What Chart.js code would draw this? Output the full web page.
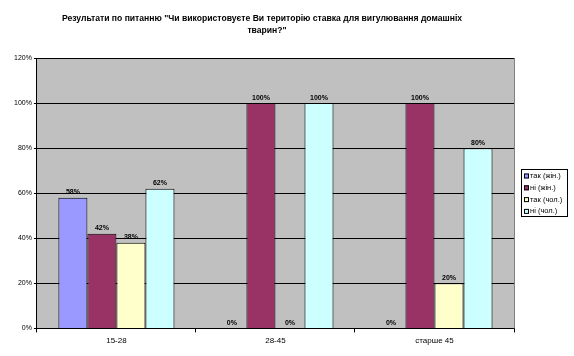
<!DOCTYPE html>
<html><head><meta charset="utf-8">
<script src="https://cdn.jsdelivr.net/npm/chart.js@4"></script>
<style>html,body{margin:0;padding:0;background:#fff;}#wrap{width:574px;height:356px;}</style>
</head><body><div id="wrap"><canvas id="c" width="574" height="356"></canvas></div>
<script>
const titleLines = ['Результати по питанню "Чи використовуєте Ви територію ставка для вигулювання домашніх', 'тварин?"'];
const categories = ['15-28', '28-45', 'старше 45'];
const seriesNames = ['так (жін.)', 'ні (жін.)', 'так (чол.)', 'ні (чол.)'];
const takZhin = [58, 0, 0];
const niZhin = [42, 100, 100];
const takChol = [38, 0, 20];
const niChol = [62, 100, 80];
const yTicks = [0, 20, 40, 60, 80, 100, 120];
const colors = ['#9999FF', '#993366', '#FFFFCC', '#CCFFFF'];

const seriesValues = [takZhin, niZhin, takChol, niChol];
const FONT = 'Arial, "Liberation Sans", sans-serif';

const bgPlugin = {
  id: 'bg',
  beforeDraw(chart) {
    const {ctx, chartArea: a} = chart;
    ctx.save();
    ctx.fillStyle = '#fff';
    ctx.fillRect(0, 0, chart.width, chart.height);
    ctx.fillStyle = '#C0C0C0';
    ctx.fillRect(a.left, a.top, a.right - a.left, a.bottom - a.top);
    ctx.restore();
  },
  afterDraw(chart) {
    const {ctx, chartArea: a} = chart;
    ctx.save();
    ctx.strokeStyle = '#808080';
    ctx.lineWidth = 1;
    ctx.beginPath();
    ctx.moveTo(a.right + 0.5, a.top);
    ctx.lineTo(a.right + 0.5, a.bottom);
    ctx.stroke();
    // title
    ctx.fillStyle = '#000';
    ctx.font = 'bold 8.6px ' + FONT;
    ctx.textAlign = 'center';
    ctx.textBaseline = 'middle';
    ctx.fillText(titleLines[0], 262, 19);
    ctx.fillText(titleLines[1], 267, 31);
    // data labels
    ctx.font = 'bold 7px ' + FONT;
    ctx.textBaseline = 'bottom';
    chart.data.datasets.forEach((ds, i) => {
      const meta = chart.getDatasetMeta(i);
      meta.data.forEach((bar, j) => {
        ctx.fillStyle = '#000';
        ctx.fillText(ds.data[j] + '%', bar.x, bar.y - 2);
      });
    });
    // legend
    const lx = 521, ly = 169, lw = 46, lh = 47;
    ctx.fillStyle = '#fff';
    ctx.fillRect(lx, ly, lw, lh);
    ctx.strokeStyle = '#000';
    ctx.strokeRect(lx + 0.5, ly + 0.5, lw, lh);
    ctx.font = '7.5px ' + FONT;
    ctx.textAlign = 'left';
    ctx.textBaseline = 'middle';
    seriesNames.forEach((n, i) => {
      const y = ly + 7 + i * 11.8;
      ctx.fillStyle = colors[i];
      ctx.fillRect(lx + 3, y - 2.5, 5, 5);
      ctx.strokeStyle = '#000';
      ctx.strokeRect(lx + 3.5, y - 2, 4, 4);
      ctx.fillStyle = '#000';
      ctx.fillText(n, lx + 9, y);
    });
    ctx.restore();
  }
};

new Chart(document.getElementById('c'), {
  type: 'bar',
  data: {
    labels: categories,
    datasets: seriesNames.map((n, i) => ({
      label: n,
      data: seriesValues[i],
      backgroundColor: colors[i],
      borderColor: '#000',
      borderWidth: 1,
      categoryPercentage: 0.73,
      barPercentage: 1.0
    }))
  },
  options: {
    responsive: false,
    animation: false,
    devicePixelRatio: 1,
    layout: { padding: { left: 12, right: 60, top: 58, bottom: 6 } },
    plugins: { legend: { display: false }, title: { display: false }, tooltip: { enabled: false } },
    scales: {
      x: {
        grid: { display: true, drawOnChartArea: false, drawTicks: true, tickLength: 4, color: '#000', offset: true },
        border: { color: '#000' },
        ticks: { color: '#000', font: { family: FONT, size: 8 }, padding: 4 }
      },
      y: {
        min: 0, max: 120,
        afterBuildTicks(axis) { axis.ticks = yTicks.map(v => ({ value: v })); },
        grid: { color: '#000', tickLength: 3, drawTicks: true },
        border: { color: '#000' },
        ticks: { color: '#000', font: { family: FONT, size: 7 }, padding: 2, callback: v => v + '%' }
      }
    }
  },
  plugins: [bgPlugin]
});
</script></body></html>
